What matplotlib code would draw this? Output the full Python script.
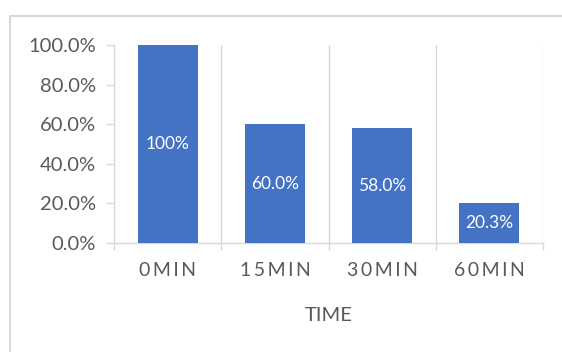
import matplotlib.pyplot as plt
from matplotlib.lines import Line2D
from matplotlib.ticker import PercentFormatter

# share of initial value remaining at each sampling time
categories = ["0MIN", "15MIN", "30MIN", "60MIN"]
values = [1.000, 0.600, 0.580, 0.203]
bar_labels = ["100%", "60.0%", "58.0%", "20.3%"]

grid_col = "#D9D9D9"
text_col = "#595959"
bar_col = "#4472C4"

plt.rcParams["font.family"] = ["Lato", "DejaVu Sans"]

fig = plt.figure(figsize=(5.62, 3.52), dpi=100)
ax = fig.add_axes([114/562, 109/352, 429/562, 198/352])

x = [i + 0.5 for i in range(len(categories))]
ax.bar(x, values, width=0.56, color=bar_col, zorder=3)
for xi, v, lab in zip(x, values, bar_labels):
    ax.text(xi, v/2, lab, ha="center", va="center", color="white",
            fontsize=12.5, zorder=4)

ax.set_xlim(0, len(categories))
ax.set_ylim(0, 1)

# category labels in the middle, separators between categories
ax.set_xticks(x)
ax.set_xticklabels(["\u2009".join(c) for c in categories])
ax.set_xticks(range(len(categories) + 1), minor=True)
ax.tick_params(axis="x", which="major", length=0, pad=14,
               labelsize=14, labelcolor=text_col)
ax.tick_params(axis="x", which="minor", length=5, direction="out",
               color=grid_col, width=1)
ax.grid(axis="x", which="minor", color=grid_col, lw=1, zorder=0)

ax.set_yticks([0, 0.2, 0.4, 0.6, 0.8, 1.0])
ax.yaxis.set_major_formatter(PercentFormatter(1.0, decimals=1))
ax.tick_params(axis="y", length=6, direction="out", color=grid_col,
               width=1, pad=7, labelsize=14.5, labelcolor=text_col)

for s in ["top", "right"]:
    ax.spines[s].set_visible(False)
for s in ["left", "bottom"]:
    ax.spines[s].set_color(grid_col)
    ax.spines[s].set_linewidth(1)

ax.set_xlabel("TIME", fontsize=14.5, color=text_col, labelpad=20)

# outer chart frame
fx = 9.5/562
fy = 1 - 15.5/352
fig.add_artist(Line2D([fx, fx, 1], [0, fy, fy], color=grid_col, lw=1.5,
                      transform=fig.transFigure))

fig.savefig("out.png", dpi=100, facecolor="white")
